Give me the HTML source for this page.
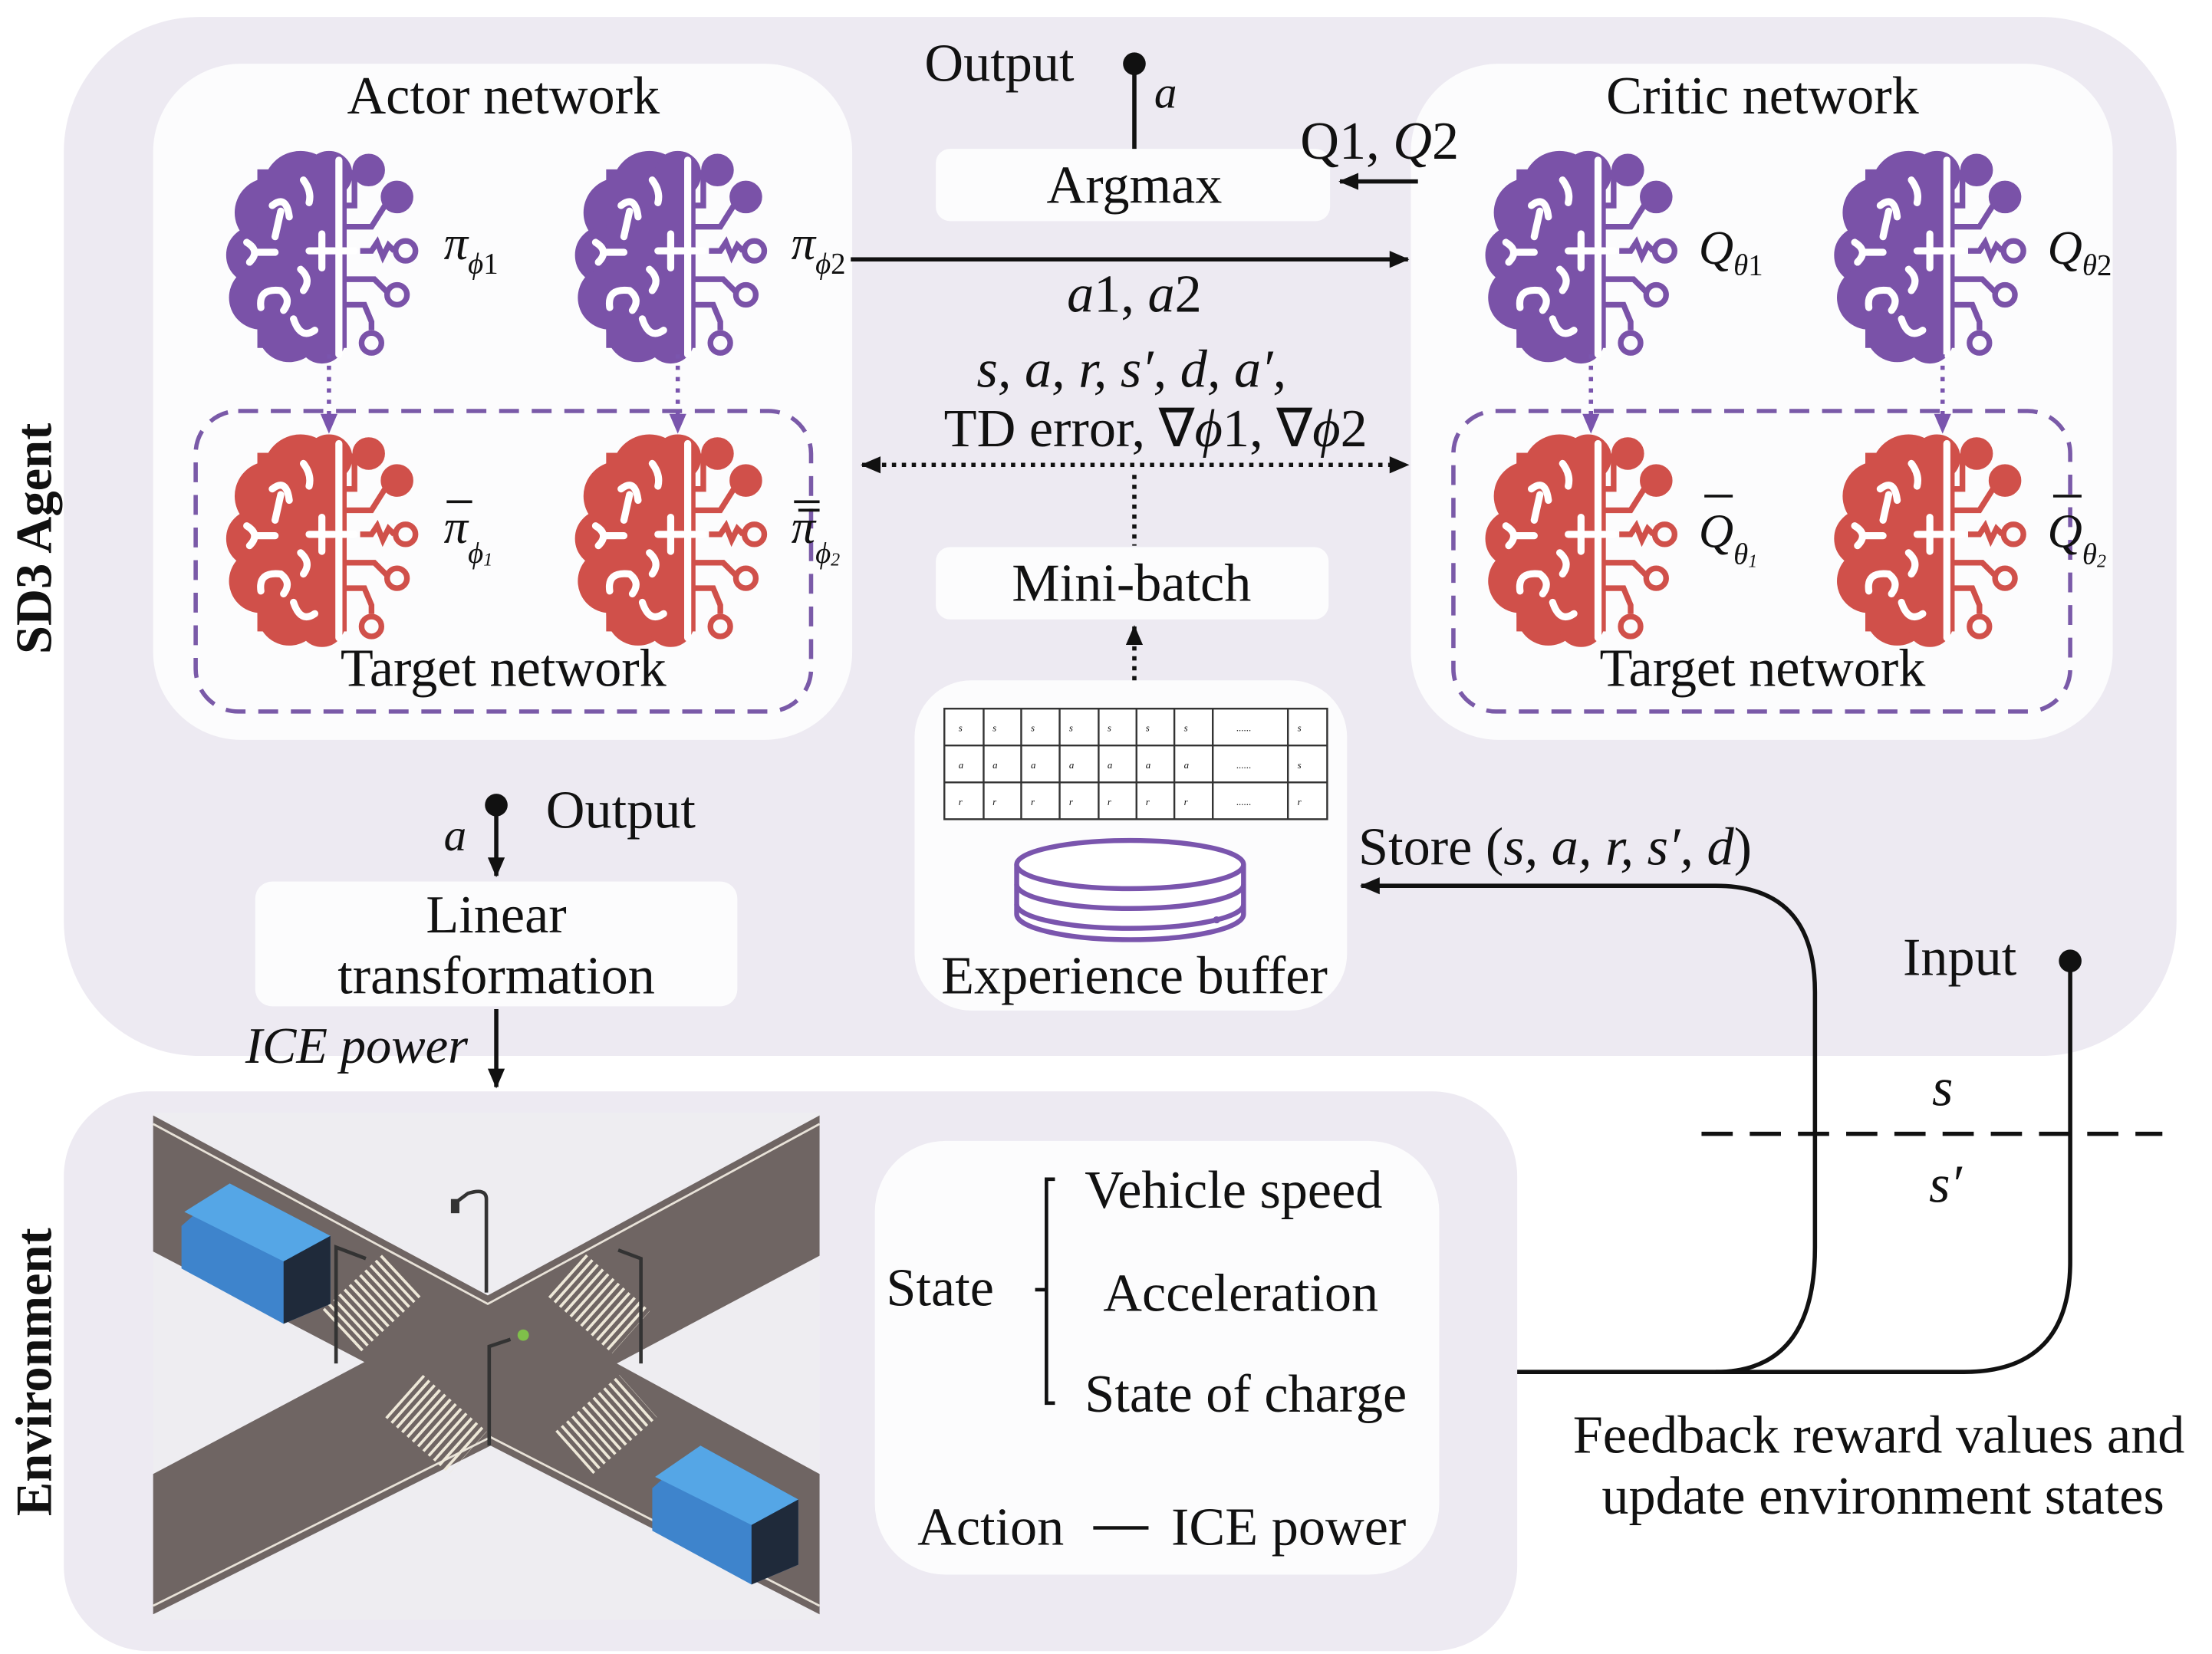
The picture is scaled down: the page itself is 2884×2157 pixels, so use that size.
<!DOCTYPE html>
<html><head><meta charset="utf-8"><style>
html,body{margin:0;padding:0;background:#fff;}
svg{display:block;}
text{font-family:"Liberation Serif",serif;fill:#111;}
.i{font-style:italic;}
</style></head><body>
<svg width="2884" height="2157" viewBox="0 0 1560 1167" preserveAspectRatio="none" xmlns="http://www.w3.org/2000/svg">
<defs>
<marker id="ahs" markerWidth="14" markerHeight="12" refX="13" refY="6" orient="auto-start-reverse" markerUnits="userSpaceOnUse"><path d="M0,0 L14,6 L0,12z" fill="#111"/></marker>
<marker id="ahp" markerWidth="14" markerHeight="12" refX="13" refY="6" orient="auto" markerUnits="userSpaceOnUse"><path d="M0,0 L14,6 L0,12z" fill="#7a55ad"/></marker>
<g id="brain">
 <circle cx="50" cy="28" r="26"/><circle cx="28" cy="45" r="24"/><circle cx="18" cy="75" r="20"/><circle cx="22" cy="105" r="22"/><circle cx="42" cy="128" r="22"/><circle cx="65" cy="135" r="16"/><circle cx="70" cy="18" r="16"/>
 <rect x="20" y="15" width="62" height="125"/>
 <circle cx="98" cy="15" r="11"/><circle cx="118" cy="34" r="11"/>
 <g fill="none" stroke-width="4">
  <path d="M80,40 H88 V15"/><path d="M80,55 H100 L112,36"/>
  <path d="M92,72 H100 l4,-6 l4,10 l4,-8 l4,4"/><circle cx="124" cy="72" r="7"/>
  <path d="M80,92 H102 L112,102"/><circle cx="118" cy="103" r="7"/>
  <path d="M80,110 H95 L100,122 V128"/><circle cx="100" cy="137" r="7"/>
 </g>
 <g fill="none" stroke="#fff" stroke-width="5" stroke-linecap="round">
  <path d="M77,8 V145"/><path d="M56,72 H74"/><path d="M65,60 V84"/><path d="M78,72 H88" stroke-dasharray="4 3"/>
  <path d="M30,40 Q40,32 42,48 M36,44 L32,62"/><path d="M52,22 Q58,30 56,38"/>
  <path d="M12,66 Q22,72 14,80 M18,73 H32"/>
  <path d="M22,112 Q20,98 36,100 Q44,106 38,114"/><path d="M45,120 Q50,135 60,128"/>
  <path d="M50,85 Q58,92 52,100"/>
 </g>
</g>
</defs>

<rect x="45" y="12" width="1490" height="733" rx="95" fill="#edeaf2"/>
<rect x="108" y="45" width="493" height="477" rx="62" fill="#fcfcfd"/>
<rect x="995" y="45" width="495" height="477" rx="62" fill="#fcfcfd"/>
<rect x="660" y="105" width="278" height="51" rx="10" fill="#fcfcfd"/>
<rect x="660" y="386" width="277" height="51" rx="10" fill="#fcfcfd"/>
<rect x="645" y="480" width="305" height="233" rx="40" fill="#fcfcfd"/>
<rect x="180" y="622" width="340" height="88" rx="12" fill="#fcfcfd"/>

<rect x="45" y="770" width="1025" height="395" rx="60" fill="#edeaf2"/>
<rect x="617" y="805" width="398" height="306" rx="50" fill="#fcfcfd"/>

<rect x="138" y="290" width="434" height="212" rx="30" fill="none" stroke="#7a5aa8" stroke-width="3" stroke-dasharray="14 9"/>
<rect x="1025" y="290" width="435" height="212" rx="30" fill="none" stroke="#7a5aa8" stroke-width="3" stroke-dasharray="14 9"/>

<g fill="#7a52a8" stroke="#7a52a8">
 <use href="#brain" x="162" y="105"/><use href="#brain" x="408" y="105"/>
 <use href="#brain" x="1050" y="105"/><use href="#brain" x="1296" y="105"/>
</g>
<g fill="#d0504a" stroke="#d0504a">
 <use href="#brain" x="162" y="305"/><use href="#brain" x="408" y="305"/>
 <use href="#brain" x="1050" y="305"/><use href="#brain" x="1296" y="305"/>
</g>
<g stroke="#7a55ad" stroke-width="3" stroke-dasharray="3 5" marker-end="url(#ahp)">
 <line x1="232" y1="250" x2="232" y2="305"/><line x1="478" y1="250" x2="478" y2="305"/>
 <line x1="1122" y1="250" x2="1122" y2="305"/><line x1="1370" y1="250" x2="1370" y2="305"/>
</g>

<g font-size="38">
<text x="355" y="80" text-anchor="middle">Actor network</text>
<text x="1243" y="80" text-anchor="middle">Critic network</text>
<text x="652" y="57">Output</text>
<text x="800" y="143" text-anchor="middle">Argmax</text>
<text x="798" y="424" text-anchor="middle">Mini-batch</text>
<text x="355" y="484" text-anchor="middle">Target network</text>
<text x="1243" y="484" text-anchor="middle">Target network</text>
<text x="385" y="584">Output</text>
<text x="350" y="658" text-anchor="middle">Linear</text>
<text x="350" y="701" text-anchor="middle">transformation</text>
<text x="800" y="701" text-anchor="middle">Experience buffer</text>
<text x="917" y="112">Q1, <tspan class="i">Q</tspan>2</text>
<text x="800" y="220" text-anchor="middle"><tspan class="i">a</tspan>1, <tspan class="i">a</tspan>2</text>
<text x="798" y="273" text-anchor="middle" class="i">s, a, r, s′, d, a′,</text>
<text x="815" y="315" text-anchor="middle">TD error, ∇<tspan class="i">ϕ</tspan>1, ∇<tspan class="i">ϕ</tspan>2</text>
<text x="958" y="610">Store (<tspan class="i">s, a, r, s′, d</tspan>)</text>
<text x="1342" y="688">Input</text>
<text x="330" y="750" text-anchor="end" class="i" font-size="36">ICE power</text>
<text x="625" y="921">State</text>
<text x="765" y="852">Vehicle speed</text>
<text x="778" y="925">Acceleration</text>
<text x="765" y="996">State of charge</text>
<text x="647" y="1090">Action</text>
<text x="826" y="1090">ICE power</text>
<text x="1325" y="1025" text-anchor="middle">Feedback reward values and</text>
<text x="1328" y="1068" text-anchor="middle">update environment states</text>
<text x="1370" y="780" text-anchor="middle" class="i">s</text>
<text x="1372" y="848" text-anchor="middle" class="i">s′</text>
<text x="814" y="76" class="i" font-size="32">a</text>
<text x="313" y="600" class="i" font-size="32">a</text>
</g>
<g font-size="34">
<text x="313" y="183" class="i">π<tspan font-size="21" dy="10">ϕ</tspan><tspan font-size="21" font-style="normal">1</tspan></text>
<text x="558" y="183" class="i">π<tspan font-size="21" dy="10">ϕ</tspan><tspan font-size="21" font-style="normal">2</tspan></text>
<text x="1198" y="186" class="i">Q<tspan font-size="21" dy="8">θ</tspan><tspan font-size="21" font-style="normal">1</tspan></text>
<text x="1444" y="186" class="i">Q<tspan font-size="21" dy="8">θ</tspan><tspan font-size="21" font-style="normal">2</tspan></text>
<text x="313" y="383" class="i">π<tspan font-size="21" dy="14">ϕ</tspan><tspan font-size="13" dy="2">1</tspan></text>
<text x="558" y="383" class="i">π<tspan font-size="21" dy="14">ϕ</tspan><tspan font-size="13" dy="2">2</tspan></text>
<text x="1198" y="386" class="i">Q<tspan font-size="21" dy="12">θ</tspan><tspan font-size="13" dy="2">1</tspan></text>
<text x="1444" y="386" class="i">Q<tspan font-size="21" dy="12">θ</tspan><tspan font-size="13" dy="2">2</tspan></text>
</g>
<g stroke="#111" stroke-width="2">
<line x1="315" y1="354" x2="333" y2="354"/><line x1="560" y1="354" x2="578" y2="354"/><line x1="563" y1="360" x2="578" y2="360"/>
<line x1="1202" y1="350" x2="1222" y2="350"/><line x1="1448" y1="350" x2="1468" y2="350"/>
</g>

<text transform="translate(36,380) rotate(-90)" text-anchor="middle" font-size="36" font-weight="bold">SD3 Agent</text>
<text transform="translate(36,968) rotate(-90)" text-anchor="middle" font-size="36" font-weight="bold">Environment</text>

<g stroke="#111" stroke-width="3" fill="none">
 <line x1="800" y1="45" x2="800" y2="105"/>
 <line x1="1000" y1="128" x2="945" y2="128" marker-end="url(#ahs)"/>
 <line x1="600" y1="183" x2="993" y2="183" marker-end="url(#ahs)"/>
 <line x1="608" y1="328" x2="993" y2="328" stroke-dasharray="3 4" marker-start="url(#ahs)" marker-end="url(#ahs)"/>
 <line x1="800" y1="335" x2="800" y2="385" stroke-dasharray="3 4"/>
 <line x1="800" y1="480" x2="800" y2="442" stroke-dasharray="3 4" marker-end="url(#ahs)"/>
 <line x1="350" y1="568" x2="350" y2="618" marker-end="url(#ahs)"/>
 <line x1="350" y1="712" x2="350" y2="767" marker-end="url(#ahs)"/>
 <path d="M1070,968 H1210 Q1280,968 1280,880 V700 Q1280,625 1210,625 H960" marker-end="url(#ahs)"/>
 <path d="M1460,678 V890 Q1460,968 1385,968 H1210"/>
 <line x1="1200" y1="800" x2="1525" y2="800" stroke-dasharray="22 12"/>
 <path d="M744,832 H738 V990 H744 M738,910 H730" stroke-width="2.5"/>
 <line x1="771" y1="1078" x2="810" y2="1078" stroke-width="2.5"/>
</g>
<circle cx="800" cy="45" r="8" fill="#111"/>
<circle cx="350" cy="568" r="8" fill="#111"/>
<circle cx="1460" cy="678" r="8" fill="#111"/>

<g stroke="#333" stroke-width="1.3" fill="#fff">
<rect x="666" y="500" width="270" height="78"/>
<line x1="666" y1="526" x2="936" y2="526"/><line x1="666" y1="552" x2="936" y2="552"/>
<line x1="693.7" y1="500" x2="693.7" y2="578"/><line x1="720.2" y1="500" x2="720.2" y2="578"/>
<line x1="747.3" y1="500" x2="747.3" y2="578"/><line x1="774.8" y1="500" x2="774.8" y2="578"/>
<line x1="801.5" y1="500" x2="801.5" y2="578"/><line x1="828.2" y1="500" x2="828.2" y2="578"/>
<line x1="855.3" y1="500" x2="855.3" y2="578"/><line x1="908.3" y1="500" x2="908.3" y2="578"/>
</g>
<g font-size="7" fill="#444" font-style="italic">
<text x="676" y="516">s</text><text x="700" y="516">s</text><text x="727" y="516">s</text><text x="754" y="516">s</text><text x="781" y="516">s</text><text x="808" y="516">s</text><text x="835" y="516">s</text><text x="872" y="516">......</text><text x="915" y="516">s</text>
<text x="676" y="542">a</text><text x="700" y="542">a</text><text x="727" y="542">a</text><text x="754" y="542">a</text><text x="781" y="542">a</text><text x="808" y="542">a</text><text x="835" y="542">a</text><text x="872" y="542">......</text><text x="915" y="542">s</text>
<text x="676" y="568">r</text><text x="700" y="568">r</text><text x="727" y="568">r</text><text x="754" y="568">r</text><text x="781" y="568">r</text><text x="808" y="568">r</text><text x="835" y="568">r</text><text x="872" y="568">......</text><text x="915" y="568">r</text>
</g>
<g stroke="#7a55ad" stroke-width="3.5" fill="#fff">
<path d="M717,610 V645 A80,18 0 0 0 877,645 V610"/>
<ellipse cx="797" cy="610" rx="80" ry="17"/>
<path d="M717,624 A80,17 0 0 0 877,624 M717,638 A80,17 0 0 0 877,638" fill="none"/>
</g>
<circle cx="858" cy="649" r="2.5" fill="#7a55ad"/>

<rect x="108" y="785" width="470" height="358" fill="#eeedf1"/>
<polygon points="108,787 344,914 578,787 578,886 435,962 578,1040 578,1139 346,1020 108,1139 108,1040 257,961 108,883" fill="#6f6563"/>
<g stroke="#e8e2d8" stroke-width="1.5" fill="none">
<path d="M108,793 L344,920 L578,793"/><path d="M108,1133 L346,1014 L578,1133"/>
</g>
<g stroke="#eee8d8" stroke-width="3" stroke-dasharray="2 3">
<line x1="283" y1="900" x2="240" y2="940" stroke-width="40"/>
<line x1="400" y1="900" x2="445" y2="940" stroke-width="40"/>
<line x1="285" y1="985" x2="330" y2="1025" stroke-width="40"/>
<line x1="405" y1="1025" x2="450" y2="985" stroke-width="40"/>
</g>
<g stroke="#333" stroke-width="2.5" fill="none">
<path d="M343,912 V846 Q343,838 330,842 L322,848"/><path d="M237,962 V880 L258,888"/><path d="M452,962 V888 L436,882"/><path d="M345,1020 V950 L360,945"/>
</g>
<rect x="318" y="846" width="6" height="10" fill="#333"/>
<circle cx="369" cy="942" r="4" fill="#7fbf4a"/>
<polygon points="128,865 162,835 233,872 233,920 200,934 128,895" fill="#3e84cc"/>
<polygon points="162,835 233,872 200,890 130,855" fill="#55a6e6"/>
<polygon points="200,890 233,872 233,920 200,934" fill="#1f2a3a"/>
<polygon points="460,1050 494,1020 563,1058 563,1104 530,1118 460,1080" fill="#3e84cc"/>
<polygon points="494,1020 563,1058 530,1076 462,1042" fill="#55a6e6"/>
<polygon points="530,1076 563,1058 563,1104 530,1118" fill="#1f2a3a"/>
</svg>
</body></html>
